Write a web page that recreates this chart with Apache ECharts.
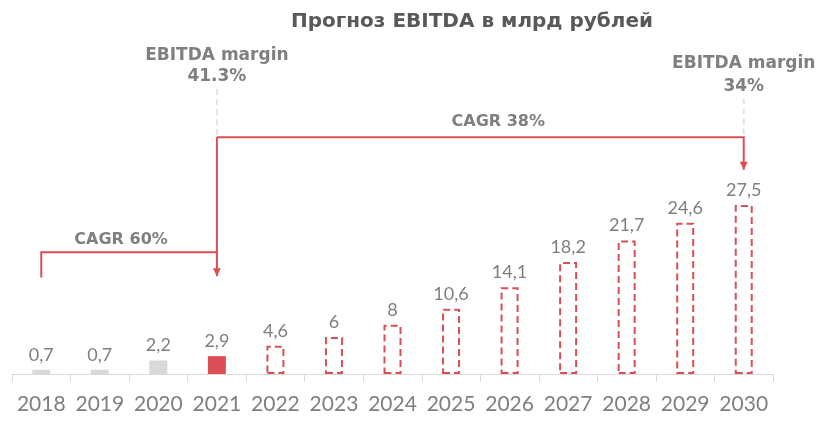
<!DOCTYPE html>
<html><head><meta charset="utf-8">
<script src="https://cdn.jsdelivr.net/npm/echarts@6/dist/echarts.min.js"></script>
<style>html,body{margin:0;padding:0;background:#fff}#c{width:820px;height:431px}</style>
</head><body><div id="c"></div>
<script>
const years = ['2018','2019','2020','2021','2022','2023','2024','2025','2026','2027','2028','2029','2030'];
const ebitda = [0.7,0.7,2.2,2.9,4.6,6,8,10.6,14.1,18.2,21.7,24.6,27.5];
const actualCount = 4;
const titleText = 'Прогноз EBITDA в млрд рублей';
const cagrShort = 'CAGR 60%';
const cagrLong = 'CAGR 38%';
const margin2021 = ['EBITDA margin', '41.3%'];
const margin2030 = ['EBITDA margin', '34%'];

const RED = '#DA4F55', GREY = '#D9D9D9', TXT = '#7F7F7F';
const chart = echarts.init(document.getElementById('c'), null, {renderer:'canvas'});

const data = ebitda.map((v, i) => {
  if (i < actualCount) {
    return { value: v, itemStyle: { color: i === actualCount - 1 ? RED : GREY } };
  }
  return { value: v, itemStyle: { color: '#fff', borderColor: RED, borderWidth: 2, borderType: [7, 4] } };
});

chart.setOption({
  animation: false,
  title: { text: titleText, left: 467, top: 7, textAlign: 'center',
    textStyle: { fontFamily: 'DejaVu Sans', fontWeight: 'bold', fontSize: 20, color: '#595959' } },
  grid: { left: 12, right: 47, top: 5, bottom: 57 },
  xAxis: { type: 'category', data: years, boundaryGap: true,
    axisLine: { lineStyle: { color: GREY, width: 1 } },
    axisTick: { show: true, length: 8, lineStyle: { color: GREY } },
    axisLabel: { interval: 0, color: TXT, fontSize: 21, fontFamily: 'Lato', margin: 20 } },
  yAxis: { type: 'value', min: 0, max: 60, show: false },
  series: [{ type: 'bar', data, barWidth: 18,
    label: { show: true, position: 'top', distance: 6, color: TXT, fontSize: 18, fontFamily: 'Lato',
      formatter: p => String(p.value).replace('.', ',') } }]
});

function px(cat, val) { return chart.convertToPixel({ gridIndex: 0 }, [cat, val]); }
const lineStyle = { stroke: RED, lineWidth: 2 };
const g = [];
function poly(points) { g.push({ type: 'polyline', shape: { points }, style: Object.assign({ fill: null }, lineStyle), z: 10 }); }
function arrow(p) { g.push({ type: 'polygon', shape: { points: [[p[0]-4, p[1]-8],[p[0]+4, p[1]-8],[p[0], p[1]]] }, style: { fill: RED }, z: 10 }); }
function text(x, y, s, size) { g.push({ type: 'text', x, y, style: { text: s, fill: TXT, font: 'bold ' + size + 'px "DejaVu Sans"', textAlign: 'center', textVerticalAlign: 'middle' }, z: 10 }); }
function dashV(p1, p2) { g.push({ type: 'line', shape: { x1: p1[0], y1: p1[1], x2: p2[0], y2: p2[1] }, style: { stroke: '#E3E3E3', lineWidth: 2, lineDash: [6, 4] }, z: 9 }); }

const a = px('2018', 15.7), b = px('2018', 19.8), c = px('2021', 19.8), d = px('2021', 15.9), e = px('2021', 38.5);
const f = px('2030', 38.5), h = px('2030', 33.2);
poly([a, b, c]);
poly([e, d]);
arrow(d);
poly([e, f, h]);
arrow(h);
const mid1 = (b[0] + c[0]) / 2, mid2 = (e[0] + f[0]) / 2;
text(mid1 - 8, b[1] - 12, cagrShort, 16);
text(mid2 + 18, e[1] - 15, cagrLong, 16);
dashV(px('2021', 46.3), e);
dashV(px('2030', 44.8), f);
const m1 = px('2021', 51.7), m2 = px('2030', 50.5);
text(m1[0], m1[1], margin2021[0], 17);
text(m1[0], m1[1] + 21, margin2021[1], 17);
text(m2[0], m2[1], margin2030[0], 17);
text(m2[0], m2[1] + 23, margin2030[1], 17);
chart.setOption({ graphic: g });
</script></body></html>
